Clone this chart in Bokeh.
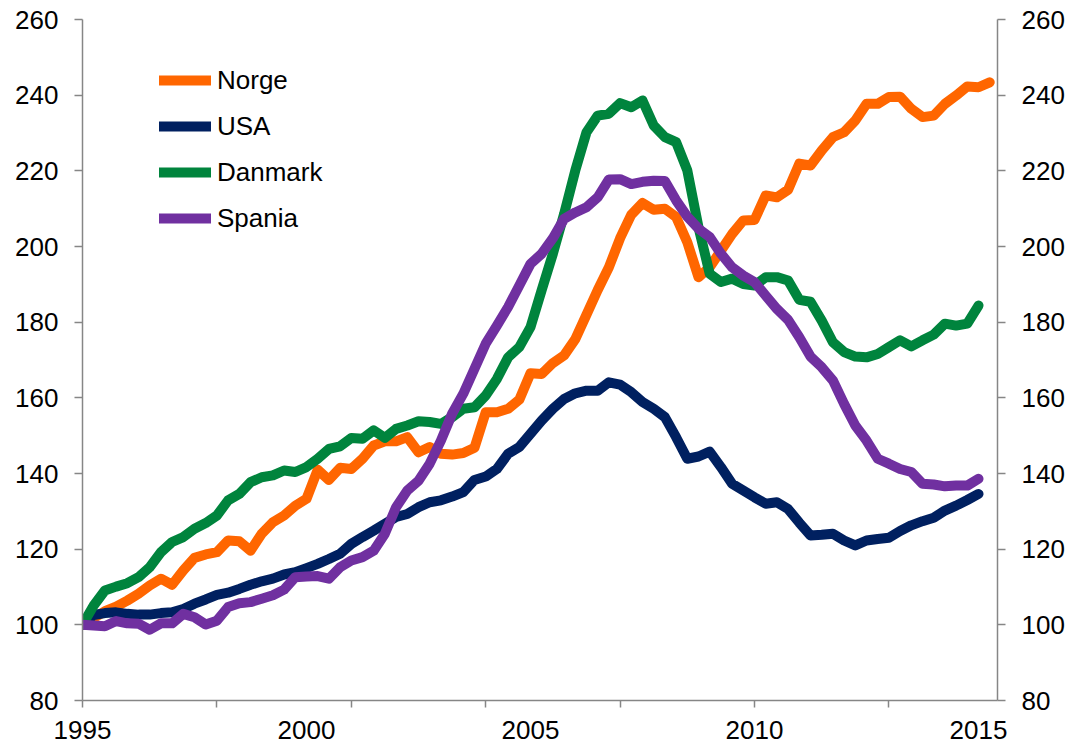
from bokeh.plotting import figure
from bokeh.models import LinearAxis, FixedTicker, Legend, LegendItem, Range1d
from bokeh.embed import file_html
from bokeh.resources import INLINE

# ---- data (quarterly index, 1995Q1 = 100) ----
start_year = 1995
norge = [100.0, 101.8, 103.6, 104.8, 106.4, 108.2, 110.4, 112.2, 110.6, 114.4,
         117.7, 118.6, 119.2, 122.3, 122.1, 119.6, 124.1, 127.1, 128.9, 131.5,
         133.3, 141.0, 138.3, 141.5, 141.2, 143.9, 147.4, 148.5, 148.5, 149.6,
         145.6, 147.0, 145.2, 145.0, 145.4, 146.8, 156.2, 156.2, 157.1, 159.5,
         166.5, 166.3, 169.2, 171.2, 175.5, 182.0, 188.5, 194.5, 202.2, 208.4,
         211.5, 209.7, 210.0, 207.8, 201.1, 191.9, 194.5, 198.9, 203.3, 206.9,
         207.0, 213.5, 213.0, 215.0, 221.9, 221.4, 225.4, 228.9, 230.2, 233.3,
         237.7, 237.7, 239.5, 239.6, 236.4, 234.2, 234.6, 237.7, 239.9, 242.3,
         242.1, 243.4]
usa = [100.0, 102.6, 103.1, 103.3, 102.9, 102.7, 102.7, 103.1, 103.3, 104.2,
       105.6, 106.7, 107.9, 108.5, 109.5, 110.6, 111.5, 112.2, 113.3, 113.9,
       115.0, 116.1, 117.4, 118.8, 121.4, 123.2, 124.9, 126.7, 128.5, 129.3,
       131.1, 132.4, 132.9, 133.9, 135.1, 138.3, 139.2, 141.2, 145.2, 147.0,
       150.5, 154.0, 157.1, 159.7, 161.2, 161.9, 161.9, 164.1, 163.5, 161.5,
       158.9, 157.1, 154.9, 149.6, 143.9, 144.5, 145.8, 141.7, 137.3, 135.5,
       133.7, 132.0, 132.4, 130.6, 127.0, 123.6, 123.8, 124.1, 122.3, 121.0,
       122.3, 122.7, 123.0, 124.8, 126.3, 127.4, 128.3, 130.2, 131.5, 133.0,
       134.6]
danmark = [100.0, 105.1, 109.1, 110.1, 111.0, 112.6, 115.2, 119.2, 121.9, 123.2,
           125.4, 126.9, 128.9, 132.9, 134.6, 137.7, 139.0, 139.5, 140.8, 140.4,
           141.7, 143.9, 146.5, 147.2, 149.4, 149.2, 151.4, 149.4, 151.8, 152.7,
           153.8, 153.6, 153.1, 154.9, 157.1, 157.5, 160.6, 165.0, 170.7, 173.4,
           178.7, 188.5, 198.1, 208.6, 220.1, 230.2, 234.6, 235.1, 237.9, 236.8,
           238.6, 232.0, 228.9, 227.6, 220.1, 205.1, 192.8, 190.6, 191.5, 190.1,
           189.7, 191.9, 191.9, 191.0, 185.9, 185.4, 180.4, 174.7, 172.1, 170.9,
           170.7, 171.6, 173.4, 175.2, 173.6, 175.2, 176.7, 179.6, 179.1, 179.6,
           184.4]
spania = [100.0, 99.8, 99.6, 101.0, 100.4, 100.3, 98.7, 100.4, 100.4, 102.9,
          102.0, 100.1, 101.1, 104.7, 105.7, 106.0, 106.9, 107.8, 109.3, 112.6,
          112.8, 112.9, 112.2, 115.2, 117.0, 117.9, 119.6, 124.1, 131.1, 135.5,
          138.1, 142.6, 148.7, 155.8, 161.1, 167.7, 174.3, 179.1, 184.0, 189.7,
          195.4, 198.1, 202.2, 207.3, 209.0, 210.4, 213.0, 217.7, 217.8, 216.5,
          217.1, 217.4, 217.3, 212.2, 207.9, 204.7, 202.5, 198.1, 194.5, 192.3,
          190.6, 187.0, 183.5, 180.6, 176.0, 170.9, 168.1, 164.6, 158.4, 152.7,
          148.7, 143.9, 142.6, 141.2, 140.4, 137.3, 137.1, 136.6, 136.8, 136.8,
          138.6]

series_names = ["Norge", "USA", "Danmark", "Spania"]
series_colors = ["#FF6600", "#002060", "#00843D", "#7030A0"]
x_label_years = [1995, 2000, 2005, 2010, 2015]
x_tick_years = [1995, 1998, 2001, 2004, 2007, 2010, 2013]
y_ticks = [80, 100, 120, 140, 160, 180, 200, 220, 240, 260]


def quarters(n):
    return [start_year + q / 4 for q in range(n)]


FONT = "Liberation Sans"
FSIZE = "26px"
AXIS_COLOR = "#868686"

p = figure(width=1071, height=744, output_backend="svg", toolbar_location=None,
           x_range=Range1d(1995, 2015.424), y_range=Range1d(80, 260),
           min_border_left=82, min_border_right=74, min_border_top=19,
           min_border_bottom=44)
p.outline_line_color = None
p.grid.visible = False
p.background_fill_color = "white"
p.border_fill_color = "white"

renderers = []
for vals, name, col in zip([norge, usa, danmark, spania], series_names, series_colors):
    r = p.line(quarters(len(vals)), vals, line_width=10, line_color=col,
               line_cap="round", line_join="round")
    renderers.append(r)

# x axis
xa = p.xaxis[0]
xa.ticker = FixedTicker(ticks=x_label_years, minor_ticks=x_tick_years)
xa.major_tick_line_color = None
xa.major_tick_out = 0
xa.major_tick_in = 0
xa.minor_tick_out = 7
xa.minor_tick_in = 0
xa.minor_tick_line_color = AXIS_COLOR
xa.minor_tick_line_width = 1.5
xa.axis_line_color = AXIS_COLOR
xa.axis_line_width = 1.5
xa.major_label_standoff = 13
xa.major_label_text_font = FONT
xa.major_label_text_font_size = FSIZE
xa.major_label_text_color = "black"


def style_y(ax):
    ax.ticker = FixedTicker(ticks=y_ticks)
    ax.major_tick_out = 8
    ax.major_tick_in = 0
    ax.major_tick_line_color = AXIS_COLOR
    ax.major_tick_line_width = 1.5
    ax.minor_tick_line_color = None
    ax.axis_line_color = AXIS_COLOR
    ax.axis_line_width = 1.5
    ax.major_label_standoff = 16
    ax.major_label_text_font = FONT
    ax.major_label_text_font_size = FSIZE
    ax.major_label_text_color = "black"


style_y(p.yaxis[0])
ra = LinearAxis()
style_y(ra)
p.add_layout(ra, "right")

legend = Legend(items=[LegendItem(label=n, renderers=[r]) for n, r in zip(series_names, renderers)],
                location=(77, 459), orientation="vertical",
                border_line_color=None, background_fill_alpha=0,
                label_text_font=FONT, label_text_font_size=FSIZE, label_text_color="black",
                glyph_width=52, glyph_height=46, label_height=46, label_standoff=6,
                spacing=0, padding=0, margin=0)
p.add_layout(legend)

open("out.html", "w").write(file_html(p, INLINE))
